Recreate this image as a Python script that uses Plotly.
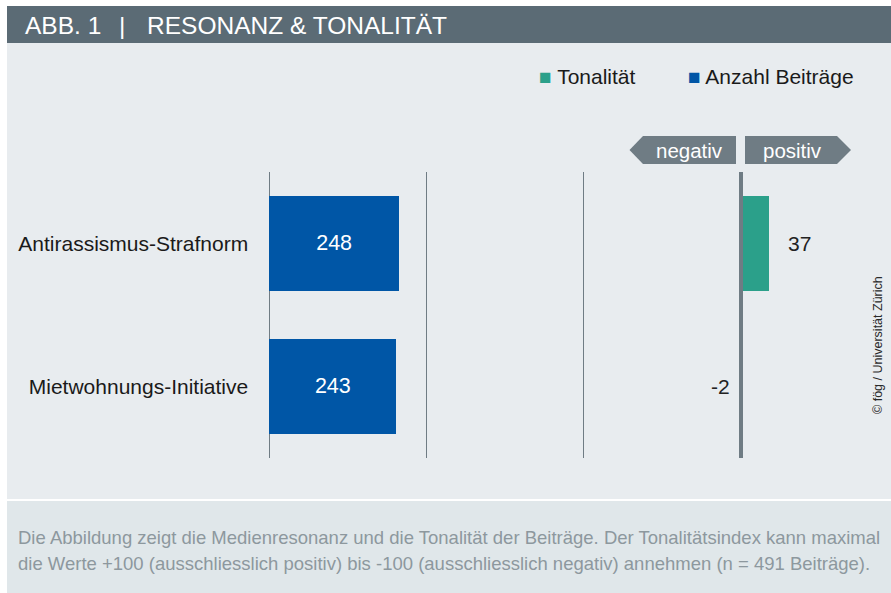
import plotly.graph_objects as go

W, H = 891, 593

categories = ["Antirassismus-Strafnorm", "Mietwohnungs-Initiative"]
anzahl = [248, 243]
tonalitaet = [37, -2]
anzahl_ticks = [0, 300, 600]

FONT = "Liberation Sans, Arial, sans-serif"
BLUE = "#0056a6"
GREEN = "#2ba08a"
GRAY = "#6f7c84"
HEADER = "#5b6b75"
CHART_BG = "#e8ecef"
CAPTION_BG = "#e0e7ea"


def px(x):
    return x / W


def py(y):
    return 1 - y / H


# count axis: 0 at 269.3 px, 248 -> 399 px
a_scale = (399.0 - 269.3) / 248.0
a_lo, a_hi = -4, 604
a_zero = 269.3

# tonality axis: zero at 741 px, 28 px for 37 units
t_scale = 28.0 / 37.0
t_half = 60
t_zero = 741.0

fig = go.Figure()

fig.add_trace(go.Bar(
    y=categories, x=anzahl, orientation="h", name="Anzahl Beiträge",
    marker=dict(color=BLUE, line=dict(width=0)), width=0.666,
    text=[str(v) for v in anzahl], textposition="inside",
    insidetextanchor="middle",
    textfont=dict(color="white", size=21.5, family=FONT),
    xaxis="x", yaxis="y", showlegend=False, hoverinfo="skip",
))

fig.add_trace(go.Bar(
    y=categories, x=tonalitaet, orientation="h", name="Tonalität",
    marker=dict(color=GREEN, line=dict(width=0)), width=0.666,
    xaxis="x2", yaxis="y", showlegend=False, hoverinfo="skip",
))

annotations = []
for c, v in zip(categories, tonalitaet):
    annotations.append(dict(
        x=v, y=c, xref="x2", yref="y", text=str(v), showarrow=False,
        xanchor="left" if v >= 0 else "right",
        xshift=17 if v >= 0 else -7,
        font=dict(size=21, color="#222222", family=FONT),
    ))

# header
annotations += [
    dict(x=px(23), y=py(25), xref="paper", yref="paper", text="ABB. 1",
         showarrow=False, xanchor="left", yanchor="middle",
         font=dict(size=24.5, color="white", family=FONT)),
    dict(x=px(122), y=py(25), xref="paper", yref="paper", text="|",
         showarrow=False, xanchor="center", yanchor="middle",
         font=dict(size=24.5, color="white", family=FONT)),
    dict(x=px(145), y=py(25), xref="paper", yref="paper",
         text="RESONANZ & TONALITÄT",
         showarrow=False, xanchor="left", yanchor="middle",
         font=dict(size=24.5, color="white", family=FONT)),
]

# legend
annotations += [
    dict(x=px(537), y=py(77), xref="paper", yref="paper",
         text=f"<span style='color:{GREEN}'>■</span> Tonalität",
         showarrow=False, xanchor="left", yanchor="middle",
         font=dict(size=21, color="#1a1a1a", family=FONT)),
    dict(x=px(686), y=py(77), xref="paper", yref="paper",
         text=f"<span style='color:{BLUE}'>■</span> Anzahl Beiträge",
         showarrow=False, xanchor="left", yanchor="middle",
         font=dict(size=21, color="#1a1a1a", family=FONT)),
]

# negativ / positiv labels
annotations += [
    dict(x=px(689.5), y=py(150), xref="paper", yref="paper", text="negativ",
         showarrow=False, xanchor="center", yanchor="middle",
         font=dict(size=20.5, color="white", family=FONT)),
    dict(x=px(792), y=py(150), xref="paper", yref="paper", text="positiv",
         showarrow=False, xanchor="center", yanchor="middle",
         font=dict(size=20.5, color="white", family=FONT)),
]

# copyright
annotations.append(dict(
    x=px(878), y=py(345), xref="paper", yref="paper",
    text="© fög / Universität Zürich", textangle=-90, showarrow=False,
    xanchor="center", yanchor="middle",
    font=dict(size=12.5, color="#2a2a2a", family=FONT)))

# caption
caption_lines = [
    "Die Abbildung zeigt die Medienresonanz und die Tonalität der Beiträge. Der Tonalitätsindex kann maximal",
    "die Werte +100 (ausschliesslich positiv) bis -100 (ausschliesslich negativ) annehmen (n = 491 Beiträge).",
]
for i, line in enumerate(caption_lines):
    annotations.append(dict(
        x=px(16), y=py(537 + 26 * i), xref="paper", yref="paper", text=line,
        showarrow=False, xanchor="left", yanchor="middle",
        font=dict(size=18.5, color="#8d989e", family=FONT)))


def path(points):
    return "M " + " L ".join(f"{px(x):.5f},{py(y):.5f}" for x, y in points) + " Z"


shapes = [
    dict(type="rect", xref="paper", yref="paper", x0=px(7), x1=1, y0=py(43), y1=py(6),
         fillcolor=HEADER, line=dict(width=0), layer="below"),
    dict(type="rect", xref="paper", yref="paper", x0=px(7), x1=1, y0=py(499), y1=py(43),
         fillcolor=CHART_BG, line=dict(width=0), layer="below"),
    dict(type="rect", xref="paper", yref="paper", x0=px(7), x1=1, y0=0, y1=py(501),
         fillcolor=CAPTION_BG, line=dict(width=0), layer="below"),
    dict(type="path", xref="paper", yref="paper",
         path=path([(629.5, 150), (643, 136), (736, 136), (736, 164), (643, 164)]),
         fillcolor=GRAY, line=dict(width=0), layer="below"),
    dict(type="path", xref="paper", yref="paper",
         path=path([(745, 136), (837, 136), (851, 150), (837, 164), (745, 164)]),
         fillcolor=GRAY, line=dict(width=0), layer="below"),
]

fig.update_layout(
    width=W, height=H,
    margin=dict(l=0, r=0, t=0, b=0, pad=0),
    paper_bgcolor="white", plot_bgcolor="rgba(0,0,0,0)",
    font=dict(family=FONT),
    bargap=0,
    xaxis=dict(domain=[px(a_zero + a_lo * a_scale), px(a_zero + a_hi * a_scale)],
               range=[a_lo, a_hi],
               tickvals=anzahl_ticks, showticklabels=False, ticks="",
               showgrid=True, gridcolor=GRAY, gridwidth=1,
               zeroline=False, showline=False, fixedrange=True, anchor="y"),
    xaxis2=dict(domain=[px(t_zero - t_half * t_scale), px(t_zero + t_half * t_scale)],
                range=[-t_half, t_half], showticklabels=False, ticks="",
                showgrid=False, zeroline=True, zerolinecolor=GRAY, zerolinewidth=4.5,
                showline=False, anchor="y", fixedrange=True),
    yaxis=dict(domain=[py(457.7), py(172)], categoryorder="array",
               categoryarray=categories, range=[1.5, -0.5],
               showgrid=False, zeroline=False, showline=False, ticks="",
               ticklabelstandoff=18,
               tickfont=dict(size=21, color="#1a1a1a", family=FONT),
               anchor="x", fixedrange=True),
    shapes=shapes,
    annotations=annotations,
)

try:
    fig.update_layout(xaxis2_zerolinelayer="above traces")
except Exception:
    pass

fig.write_html(
    "out.html",
    config={"displayModeBar": False, "staticPlot": True},
    post_script="document.body.style.margin='0';document.body.style.overflow='hidden';",
)
